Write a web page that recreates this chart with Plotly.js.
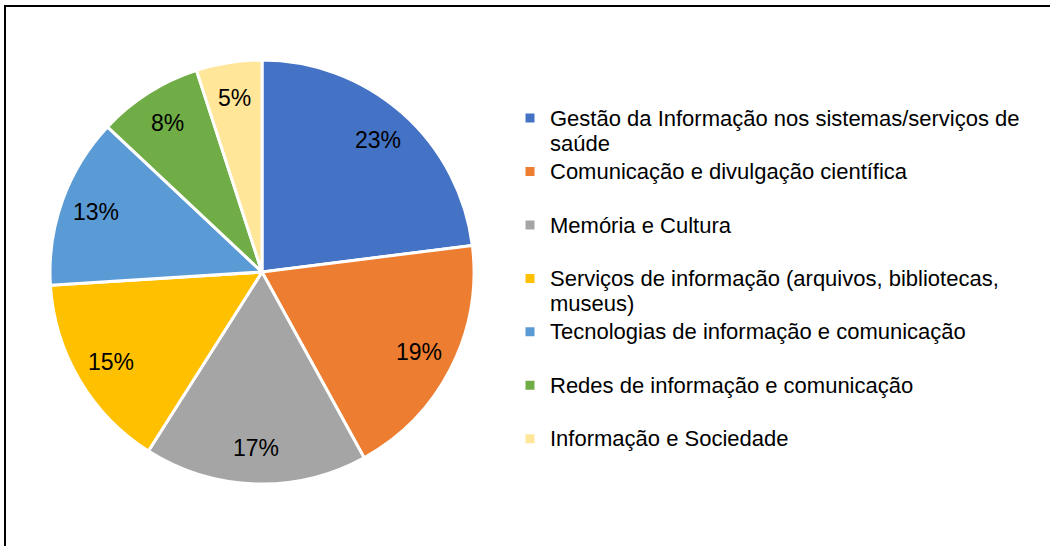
<!DOCTYPE html>
<html>
<head>
<meta charset="utf-8">
<script src="https://cdn.plot.ly/plotly-3.0.1.min.js"></script>
<style>
  html, body { margin: 0; padding: 0; background: #fff; overflow: hidden; }
  #chart { position: absolute; left: 0; top: 0; width: 1050px; height: 546px; }
  #frame { position: absolute; left: 4px; top: 5px; width: 1100px; height: 600px;
           border: 2.5px solid #000; pointer-events: none; box-sizing: border-box; }
</style>
</head>
<body>
<div id="chart"></div>
<div id="frame"></div>
<script>
// ---- data ----
const categories = [
  "Gestão da Informação nos sistemas/serviços de<br>saúde",
  "Comunicação e divulgação científica",
  "Memória e Cultura",
  "Serviços de informação (arquivos, bibliotecas,<br>museus)",
  "Tecnologias de informação e comunicação",
  "Redes de informação e comunicação",
  "Informação e Sociedade"
];
const shares = [23, 19, 17, 15, 13, 8, 5];
const colors = ["#4472C4", "#ED7D31", "#A5A5A5", "#FFC000", "#5B9BD5", "#70AD47", "#FFE699"];

// legend entries: every entry occupies two lines so spacing is uniform
const legendLabels = categories.map(c => {
  const txt = c.indexOf("<br>") >= 0 ? c : c + "<br> ";
  return '<span style="font-size:22px">' + txt + '</span>';
});

const W = 1050, H = 546;
// pie box in pixels (layout, not data)
const PX0 = 50, PX1 = 474, PY0 = 60, PY1 = 484;
const CX = (PX0 + PX1) / 2, CY = (PY0 + PY1) / 2, R = Math.min(PX1 - PX0, PY1 - PY0) / 2;
const LABEL_R = 0.83; // fraction of radius where data labels sit (Excel best-fit style)

const trace = {
  type: "pie",
  labels: legendLabels,
  values: shares,
  sort: false,
  direction: "clockwise",
  rotation: 0,
  marker: { colors: colors, line: { color: "#ffffff", width: 3 } },
  textinfo: "none",
  hoverinfo: "none",
  domain: { x: [PX0 / W, PX1 / W], y: [(H - PY1) / H, (H - PY0) / H] }
};

// data labels placed along each slice's bisector, derived from the shares
const total = shares.reduce((a, b) => a + b, 0);
let cum = 0;
const annotations = shares.map(v => {
  const mid = (cum + v / 2) / total * 2 * Math.PI;
  cum += v;
  const px = CX + LABEL_R * R * Math.sin(mid);
  const py = CY - LABEL_R * R * Math.cos(mid);
  return {
    xref: "paper", yref: "paper",
    x: px / W, y: (H - py) / H,
    xanchor: "center", yanchor: "middle",
    showarrow: false,
    text: Math.round(v / total * 100) + "%",
    font: { family: "Liberation Sans, Arial, sans-serif", size: 23, color: "#000000" }
  };
});

const layout = {
  width: W, height: H,
  margin: { l: 0, r: 0, t: 0, b: 0 },
  paper_bgcolor: "#ffffff",
  font: { family: "Liberation Sans, Arial, sans-serif", color: "#000000" },
  showlegend: true,
  annotations: annotations,
  legend: {
    x: 510 / W, xanchor: "left",
    y: (H - 99) / H, yanchor: "top",
    valign: "top",
    font: { size: 19.4, color: "#000000", family: "Liberation Sans, Arial, sans-serif" },
    bgcolor: "rgba(0,0,0,0)",
    traceorder: "normal"
  }
};

Plotly.newPlot("chart", [trace], layout, { displayModeBar: false, staticPlot: true });
</script>
</body>
</html>
